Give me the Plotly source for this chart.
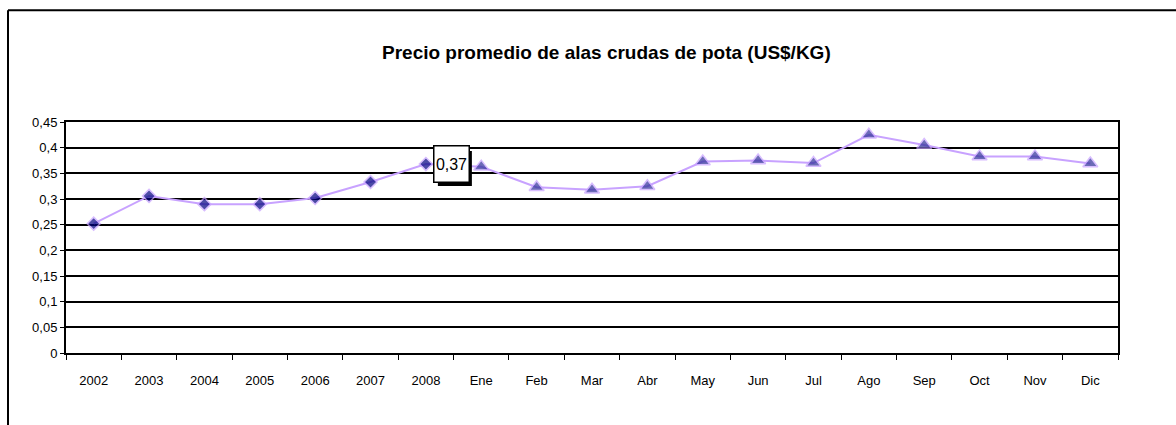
import plotly.graph_objects as go

categories = ["2002", "2003", "2004", "2005", "2006", "2007", "2008",
              "Ene", "Feb", "Mar", "Abr", "May", "Jun", "Jul", "Ago", "Sep", "Oct", "Nov", "Dic"]
prices = [0.252, 0.306, 0.290, 0.290, 0.302, 0.333, 0.368,
          0.363, 0.323, 0.318, 0.325, 0.373, 0.375, 0.370, 0.425, 0.405, 0.383, 0.383, 0.369]
kind = ["year"] * 7 + ["month"] * 12
y_ticks = [0, 0.05, 0.1, 0.15, 0.2, 0.25, 0.3, 0.35, 0.4, 0.45]
y_tick_text = ["0", "0,05", "0,1", "0,15", "0,2", "0,25", "0,3", "0,35", "0,4", "0,45"]
title_text = "Precio promedio de alas crudas de pota (US$/KG)"
label_text = "0,37"
label_index = categories.index("2008")

LINE = "#C8A2FF"
symbols = ["diamond" if k == "year" else "triangle-up" for k in kind]
colors = ["#000080" if k == "year" else "#2E2E99" for k in kind]
sizes = [10 if k == "year" else 13 for k in kind]

fig = go.Figure()
fig.add_trace(go.Scatter(
    x=list(range(len(categories))), y=prices, mode="lines+markers",
    line=dict(color=LINE, width=2),
    marker=dict(symbol=symbols, color=colors, size=sizes,
                line=dict(color=LINE, width=1.5)),
    showlegend=False, cliponaxis=False,
))

font_family = "Liberation Sans, Arial, sans-serif"

# data label shadow (pixel-sized shape anchored at the data point)
fig.add_shape(type="rect", xref="x", yref="y",
              xsizemode="pixel", ysizemode="pixel",
              xanchor=label_index, yanchor=prices[label_index],
              x0=12, x1=46, y0=-22, y1=13,
              fillcolor="black", line=dict(color="black", width=0))
fig.add_annotation(x=label_index, y=prices[label_index], text=label_text,
                   showarrow=False, xshift=26, yshift=0,
                   font=dict(family=font_family, size=16, color="black"),
                   bgcolor="white", bordercolor="black", borderwidth=1.5,
                   width=34, height=35, borderpad=0)

# chart title
fig.add_annotation(xref="paper", yref="paper", x=(606 - 66) / 1052, y=(352.7 - 52) / 231,
                   text="<b>" + title_text + "</b>", showarrow=False,
                   xanchor="center", yanchor="middle",
                   font=dict(family=font_family, size=19, color="black"))

# outer chart frame (left and top edges visible)
fx = (8 - 66) / 1052
fy = (352.7 - 10) / 231
fig.add_shape(type="line", xref="paper", yref="paper", x0=fx, x1=fx, y0=-1, y1=fy,
              line=dict(color="black", width=2))
fig.add_shape(type="line", xref="paper", yref="paper", x0=fx, x1=1.2, y0=fy, y1=fy,
              line=dict(color="black", width=2))

fig.update_layout(
    width=1176, height=425,
    margin=dict(l=66, r=58, t=122, b=72),
    paper_bgcolor="white", plot_bgcolor="white",
    font=dict(family=font_family, size=13, color="black"),
)
fig.update_xaxes(
    range=[-0.5, len(categories) - 0.5],
    tickmode="array", tickvals=list(range(len(categories))), ticktext=categories,
    showline=True, linecolor="black", linewidth=2, mirror=True,
    ticks="", showgrid=False, zeroline=False,
    ticklabelstandoff=14, tickfont=dict(size=13),
    minor=dict(tickmode="array", tickvals=[i - 0.5 for i in range(len(categories) + 1)],
               ticks="outside", ticklen=5, tickcolor="black", tickwidth=1, showgrid=False),
)
fig.update_yaxes(
    range=[0, 0.45], tickvals=y_ticks, ticktext=y_tick_text,
    showline=True, linecolor="black", linewidth=2, mirror=True,
    ticks="outside", ticklen=4, tickcolor="black", tickwidth=1,
    showgrid=True, gridcolor="black", gridwidth=1.5, zeroline=False,
    tickfont=dict(size=13),
)

fig.write_html("out.html", config={"displayModeBar": False},
               post_script="document.body.style.margin='0';")
